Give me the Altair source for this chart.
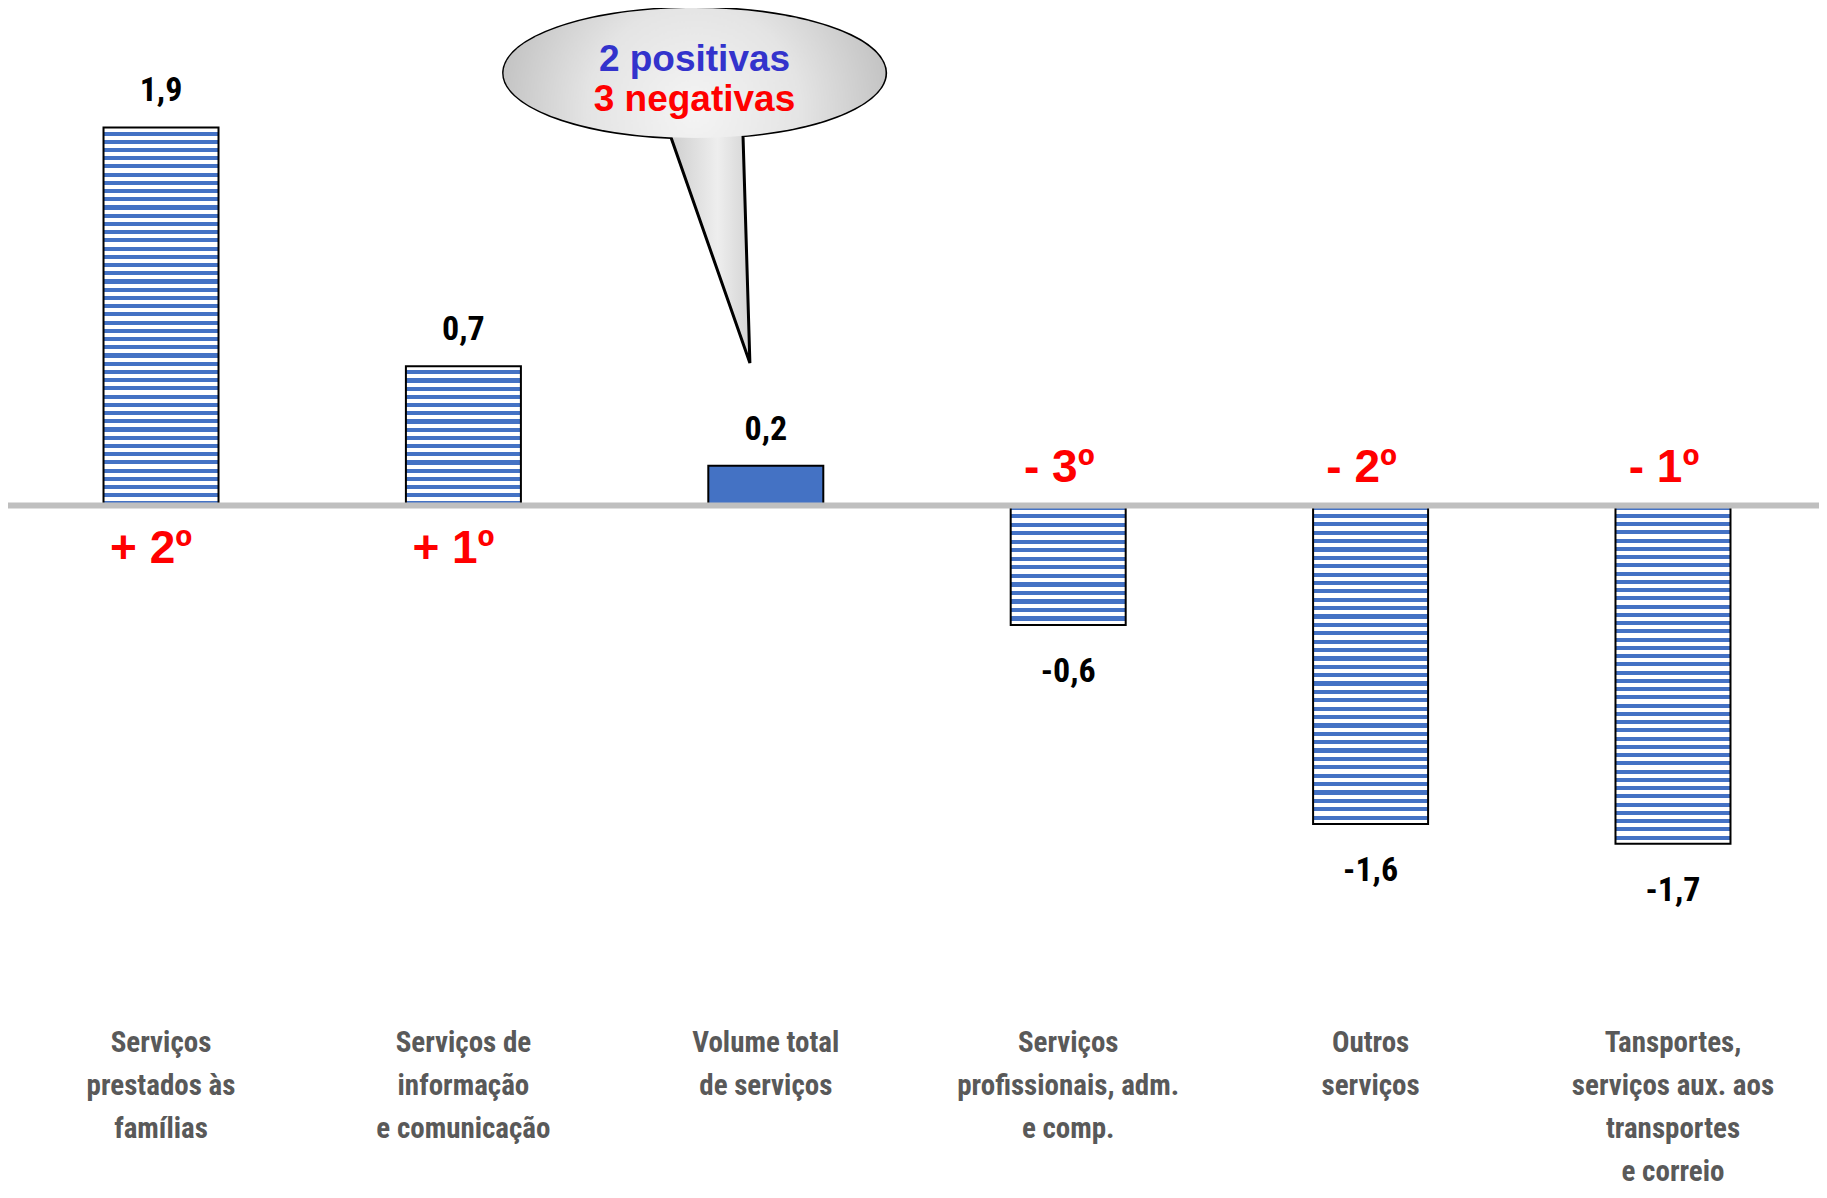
import altair as alt
import pandas as pd

# ---------------- data ----------------
categories = [
    "Serviços\nprestados às\nfamílias",
    "Serviços de\ninformação\ne comunicação",
    "Volume total\nde serviços",
    "Serviços\nprofissionais, adm.\ne comp.",
    "Outros\nserviços",
    "Tansportes,\nserviços aux. aos\ntransportes\ne correio",
]
values = [1.9, 0.7, 0.2, -0.6, -1.6, -1.7]
ranks = ["+ 2º", "+ 1º", "", "- 3º", "- 2º", "- 1º"]
is_total = [False, False, True, False, False, False]
callout_lines = ["2 positivas", "3 negativas"]

value_labels = [f"{v:.1f}".replace(".", ",") for v in values]

df = pd.DataFrame({
    "i": list(range(len(categories))),
    "cat": categories,
    "v": values,
    "lbl": value_labels,
    "rank": ranks,
    "total": is_total,
})
df_call = pd.DataFrame({"i": [0, 1], "line": callout_lines})
df_zero = pd.DataFrame({"z": [0]})

# ---------------- style ----------------
W, H = 1804, 995
Y_DOMAIN = [-2.5, 2.5]
PX_PER_UNIT = H / (Y_DOMAIN[1] - Y_DOMAIN[0])
STRIPE_PX = 8.3
BLUE = "#4472C4"
NARROW = "Liberation Sans Narrow, Arial Narrow, Roboto Condensed, sans-serif"
ARIAL = "Liberation Sans, Arial, sans-serif"

x_enc = alt.X("cat:N", sort=categories, axis=None,
              scale=alt.Scale(paddingInner=0.6197, paddingOuter=0.2927))
y_enc = alt.Y("v:Q", axis=None,
              scale=alt.Scale(domain=Y_DOMAIN, nice=False, zero=False))


def stripe_gradient(v):
    n = max(1, round(abs(v) * PX_PER_UNIT / STRIPE_PX))
    stops = []
    for k in range(n):
        a = k / n
        b = (k + 0.5) / n
        c = (k + 1) / n
        stops += [
            {"offset": a, "color": BLUE},
            {"offset": b, "color": BLUE},
            {"offset": b, "color": "#FFFFFF"},
            {"offset": c, "color": "#FFFFFF"},
        ]
    if v >= 0:
        return {"gradient": "linear", "x1": 0, "y1": 1, "x2": 0, "y2": 0, "stops": stops}
    return {"gradient": "linear", "x1": 0, "y1": 0, "x2": 0, "y2": 1, "stops": stops}


base = alt.Chart(df)
layers = []

# striped bars
for idx, (v, tot) in enumerate(zip(values, is_total)):
    if tot:
        continue
    layers.append(
        base.transform_filter(alt.FieldEqualPredicate(field="i", equal=idx))
        .mark_bar(fill=stripe_gradient(v), stroke="black", strokeWidth=2)
        .encode(x=x_enc, y=y_enc, y2=alt.datum(0))
    )

# solid total bar
layers.append(
    base.transform_filter(alt.FieldEqualPredicate(field="total", equal=True))
    .mark_bar(fill=BLUE, stroke="black", strokeWidth=2)
    .encode(x=x_enc, y=y_enc, y2=alt.datum(0))
)

# zero line
layers.append(
    alt.Chart(df_zero).mark_rule(color="#BFBFBF", strokeWidth=6)
    .encode(y=alt.Y("z:Q", scale=alt.Scale(domain=Y_DOMAIN, nice=False, zero=False), axis=None),
            x=alt.value(-7), x2=alt.value(W))
)

# value labels
layers.append(
    base.transform_filter("datum.v >= 0")
    .mark_text(font=NARROW, fontWeight="bold", fontSize=34, color="black",
               baseline="alphabetic", dy=-26)
    .encode(x=x_enc, y=y_enc, text="lbl:N")
)
layers.append(
    base.transform_filter("datum.v < 0")
    .mark_text(font=NARROW, fontWeight="bold", fontSize=34, color="black",
               baseline="alphabetic", dy=57)
    .encode(x=x_enc, y=y_enc, text="lbl:N")
)

# rank labels
layers.append(
    base.transform_filter("datum.v > 0 && datum.rank != ''")
    .mark_text(font=ARIAL, fontWeight="bold", fontSize=46, color="#FF0000",
               baseline="alphabetic", dy=57, dx=-10)
    .encode(x=x_enc, y=alt.datum(0), text="rank:N")
)
layers.append(
    base.transform_filter("datum.v < 0 && datum.rank != ''")
    .mark_text(font=ARIAL, fontWeight="bold", fontSize=46, color="#FF0000",
               baseline="alphabetic", dy=-24, dx=-9)
    .encode(x=x_enc, y=alt.datum(0), text="rank:N")
)

# category labels
layers.append(
    base.mark_text(font=NARROW, fontWeight="bold", fontSize=29, color="#595959",
                   lineBreak="\n", lineHeight=43, baseline="alphabetic", align="center")
    .encode(x=x_enc, y=alt.value(1044), text="cat:N")
)

# callout bubble
TAIL_PATH = "M -0.123 0.3374 A 1 0.34 0 1 1 0.254 0.3289 L 0.29 1.518 Z"
ELLIPSE_PATH = "M -1 0 A 1 0.34 0 1 1 1 0 A 1 0.34 0 1 1 -1 0 Z"
tail_grad = {"gradient": "linear", "x1": 0, "y1": 0, "x2": 1, "y2": 0,
             "stops": [{"offset": 0.0, "color": "#C8C8C8"},
                       {"offset": 0.44, "color": "#CFCFCF"},
                       {"offset": 0.56, "color": "#EEEEEE"},
                       {"offset": 0.66, "color": "#CFCFCF"},
                       {"offset": 1.0, "color": "#C8C8C8"}]}
ell_grad = {"gradient": "radial", "x1": 0.5, "y1": 0.6, "r1": 0,
            "x2": 0.5, "y2": 0.6, "r2": 0.62,
            "stops": [{"offset": 0.0, "color": "#F4F4F4"},
                      {"offset": 0.45, "color": "#E4E4E4"},
                      {"offset": 1.0, "color": "#B4B4B4"}]}
CX, CY = 679.5, 65
BUBBLE_SIZE = 382 ** 2

call = alt.Chart(df_call)
layers.append(
    call.transform_filter(alt.FieldEqualPredicate(field="i", equal=0))
    .mark_point(shape=TAIL_PATH, size=BUBBLE_SIZE, filled=True, fill=tail_grad,
                stroke="black", strokeWidth=3, opacity=1)
    .encode(x=alt.value(CX), y=alt.value(CY))
)
layers.append(
    call.transform_filter(alt.FieldEqualPredicate(field="i", equal=0))
    .mark_point(shape=ELLIPSE_PATH, size=BUBBLE_SIZE, filled=True, fill=ell_grad,
                strokeOpacity=0, opacity=1)
    .encode(x=alt.value(CX), y=alt.value(CY))
)
layers.append(
    call.transform_filter(alt.FieldEqualPredicate(field="i", equal=0))
    .mark_text(font=ARIAL, fontWeight="bold", fontSize=37, color="#3333CC",
               baseline="alphabetic", align="center")
    .encode(x=alt.value(CX), y=alt.value(63), text="line:N")
)
layers.append(
    call.transform_filter(alt.FieldEqualPredicate(field="i", equal=1))
    .mark_text(font=ARIAL, fontWeight="bold", fontSize=37, color="#FF0000",
               baseline="alphabetic", align="center")
    .encode(x=alt.value(CX), y=alt.value(103), text="line:N")
)

chart = (
    alt.layer(*layers)
    .properties(width=W, height=H,
                padding={"left": 7, "top": 0, "right": 0, "bottom": 185},
                autosize=alt.AutoSizeParams(type="none"))
    .configure_view(stroke=None)
)

chart.save("out.html", embed_options={"renderer": "svg", "actions": False})
